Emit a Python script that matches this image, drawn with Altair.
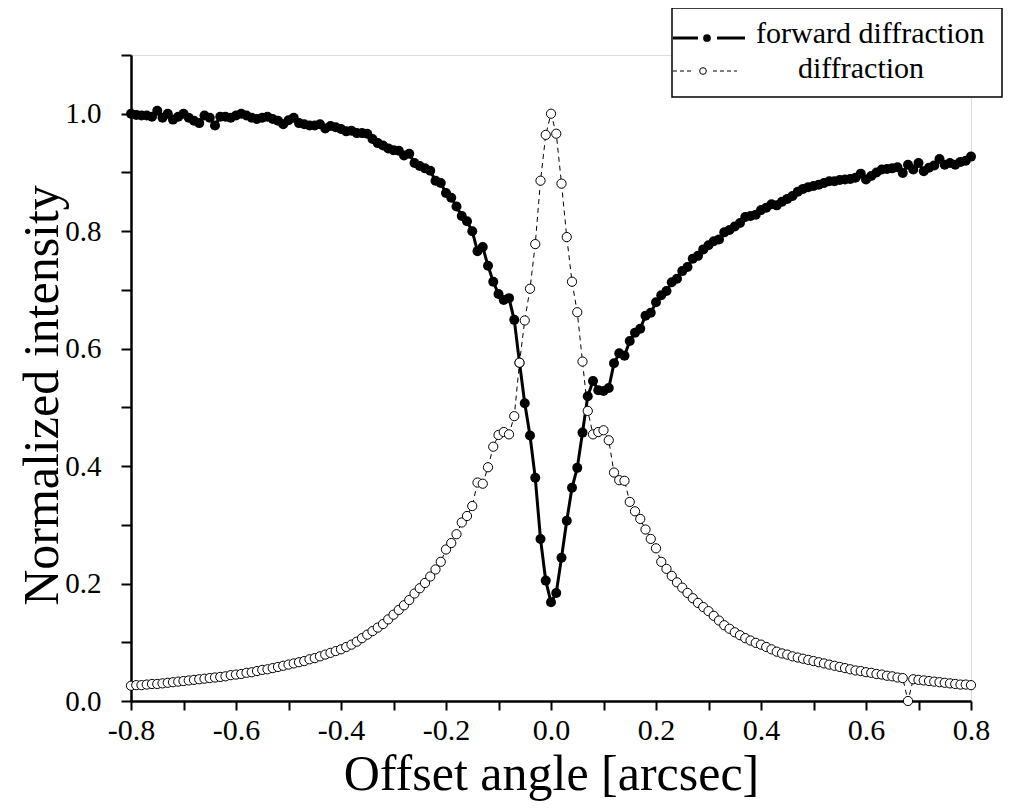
import altair as alt
import pandas as pd

X = [
    -0.80, -0.79, -0.78, -0.77, -0.76, -0.75, -0.74, -0.73, -0.72, -0.71,
    -0.70, -0.69, -0.68, -0.67, -0.66, -0.65, -0.64, -0.63, -0.62, -0.61,
    -0.60, -0.59, -0.58, -0.57, -0.56, -0.55, -0.54, -0.53, -0.52, -0.51,
    -0.50, -0.49, -0.48, -0.47, -0.46, -0.45, -0.44, -0.43, -0.42, -0.41,
    -0.40, -0.39, -0.38, -0.37, -0.36, -0.35, -0.34, -0.33, -0.32, -0.31,
    -0.30, -0.29, -0.28, -0.27, -0.26, -0.25, -0.24, -0.23, -0.22, -0.21,
    -0.20, -0.19, -0.18, -0.17, -0.16, -0.15, -0.14, -0.13, -0.12, -0.11,
    -0.10, -0.09, -0.08, -0.07, -0.06, -0.05, -0.04, -0.03, -0.02, -0.01,
    0.00, 0.01, 0.02, 0.03, 0.04, 0.05, 0.06, 0.07, 0.08, 0.09,
    0.10, 0.11, 0.12, 0.13, 0.14, 0.15, 0.16, 0.17, 0.18, 0.19,
    0.20, 0.21, 0.22, 0.23, 0.24, 0.25, 0.26, 0.27, 0.28, 0.29,
    0.30, 0.31, 0.32, 0.33, 0.34, 0.35, 0.36, 0.37, 0.38, 0.39,
    0.40, 0.41, 0.42, 0.43, 0.44, 0.45, 0.46, 0.47, 0.48, 0.49,
    0.50, 0.51, 0.52, 0.53, 0.54, 0.55, 0.56, 0.57, 0.58, 0.59,
    0.60, 0.61, 0.62, 0.63, 0.64, 0.65, 0.66, 0.67, 0.68, 0.69,
    0.70, 0.71, 0.72, 0.73, 0.74, 0.75, 0.76, 0.77, 0.78, 0.79,
    0.80,
]

FORWARD = [
    1.000, 0.998, 0.997, 0.997, 0.995, 1.005, 0.993, 1.000, 0.990, 0.995,
    1.000, 0.993, 0.988, 0.984, 0.997, 0.993, 0.980, 0.995, 0.995, 0.993,
    0.997, 1.000, 0.997, 0.993, 0.991, 0.993, 0.995, 0.991, 0.988, 0.982,
    0.989, 0.993, 0.984, 0.982, 0.980, 0.980, 0.982, 0.975, 0.979, 0.977,
    0.974, 0.970, 0.971, 0.967, 0.967, 0.966, 0.957, 0.950, 0.946, 0.941,
    0.938, 0.937, 0.929, 0.932, 0.916, 0.911, 0.907, 0.903, 0.886, 0.882,
    0.865, 0.857, 0.842, 0.826, 0.817, 0.800, 0.766, 0.773, 0.741, 0.714,
    0.693, 0.683, 0.686, 0.649, 0.576, 0.507, 0.452, 0.380, 0.276, 0.205,
    0.168, 0.184, 0.244, 0.307, 0.363, 0.397, 0.457, 0.519, 0.545, 0.529,
    0.528, 0.533, 0.575, 0.592, 0.588, 0.613, 0.627, 0.634, 0.656, 0.661,
    0.679, 0.691, 0.698, 0.713, 0.719, 0.732, 0.739, 0.753, 0.758, 0.769,
    0.776, 0.783, 0.786, 0.798, 0.802, 0.808, 0.814, 0.824, 0.826, 0.828,
    0.836, 0.840, 0.846, 0.844, 0.850, 0.855, 0.860, 0.867, 0.872, 0.875,
    0.877, 0.879, 0.882, 0.885, 0.885, 0.887, 0.888, 0.889, 0.891, 0.898,
    0.888, 0.894, 0.900, 0.905, 0.906, 0.907, 0.909, 0.899, 0.913, 0.905,
    0.916, 0.902, 0.908, 0.912, 0.923, 0.913, 0.916, 0.913, 0.918, 0.920,
    0.927,
]

DIFFRACTION = [
    0.026, 0.027, 0.027, 0.028, 0.029, 0.029, 0.030, 0.031, 0.032, 0.033,
    0.034, 0.035, 0.036, 0.037, 0.038, 0.039, 0.040, 0.041, 0.042, 0.044,
    0.045, 0.046, 0.048, 0.049, 0.051, 0.053, 0.054, 0.056, 0.058, 0.060,
    0.062, 0.064, 0.066, 0.068, 0.071, 0.073, 0.076, 0.079, 0.082, 0.085,
    0.088, 0.092, 0.096, 0.101, 0.107, 0.113, 0.119, 0.125, 0.131, 0.139,
    0.147, 0.155, 0.163, 0.172, 0.183, 0.192, 0.201, 0.212, 0.224, 0.237,
    0.258, 0.269, 0.284, 0.304, 0.315, 0.332, 0.372, 0.370, 0.398, 0.433,
    0.453, 0.458, 0.454, 0.485, 0.576, 0.648, 0.702, 0.778, 0.886, 0.964,
    1.000, 0.966, 0.881, 0.790, 0.714, 0.662, 0.578, 0.494, 0.454, 0.458,
    0.461, 0.444, 0.389, 0.376, 0.375, 0.339, 0.323, 0.310, 0.292, 0.276,
    0.260, 0.237, 0.225, 0.213, 0.202, 0.193, 0.184, 0.175, 0.167, 0.160,
    0.153, 0.145, 0.137, 0.129, 0.123, 0.117, 0.112, 0.107, 0.103, 0.099,
    0.096, 0.092, 0.088, 0.084, 0.081, 0.079, 0.076, 0.074, 0.072, 0.070,
    0.068, 0.066, 0.064, 0.062, 0.060, 0.058, 0.056, 0.054, 0.052, 0.051,
    0.049, 0.048, 0.046, 0.045, 0.043, 0.042, 0.040, 0.039, 0.000, 0.037,
    0.036, 0.035, 0.034, 0.033, 0.032, 0.031, 0.030, 0.029, 0.028, 0.028,
    0.027,
]

X_TICKS = [-0.8, -0.7, -0.6, -0.5, -0.4, -0.3, -0.2, -0.1, 0.0,
           0.1, 0.2, 0.3, 0.4, 0.5, 0.6, 0.7, 0.8]
Y_TICKS = [0.0, 0.1, 0.2, 0.3, 0.4, 0.5, 0.6, 0.7, 0.8, 0.9, 1.0, 1.1]

LEGEND_LABELS = ["forward diffraction", "diffraction"]

FONT = "Liberation Serif"

df = pd.DataFrame({"x": X, "forward": FORWARD, "diffraction": DIFFRACTION})
one = pd.DataFrame({"k": [0]})

label_expr = (
    "abs(round(datum.value*10)) % 2 == 0 ? "
    "(datum.value < -0.001 ? '-' + format(-datum.value, '.1f') : format(abs(datum.value), '.1f')) : ''"
)

x_axis = alt.Axis(
    values=X_TICKS, grid=False, domainColor="black", domainWidth=2.5,
    tickColor="black", tickWidth=2, tickSize=9,
    labelFont=FONT, labelFontSize=30, labelColor="black", labelPadding=5,
    labelExpr=label_expr, labelFlush=False, labelOverlap=False,
    title="Offset angle [arcsec]", titleFont=FONT, titleFontSize=50,
    titleFontWeight="normal", titleColor="black",
    titleBaseline="alphabetic", titleY=88, titleX=420,
)
y_axis = alt.Axis(
    values=Y_TICKS, grid=False, domainColor="black", domainWidth=2.5,
    tickColor="black", tickWidth=2, tickSize=10,
    labelFont=FONT, labelFontSize=29, labelColor="black", labelPadding=20,
    labelExpr=label_expr, labelFlush=False, labelOverlap=False,
    title="Normalized intensity", titleFont=FONT, titleFontSize=50,
    titleFontWeight="normal", titleColor="black",
    titleBaseline="alphabetic", titleX=-74, titleY=340, titleAngle=270,
)

xs = alt.Scale(domain=[-0.8, 0.8], nice=False, zero=False)
ys = alt.Scale(domain=[0.0, 1.1], nice=False, zero=False)

base = alt.Chart(df)
X_ENC = alt.X("x:Q", scale=xs, axis=x_axis)

fwd_line = base.mark_line(color="black", strokeWidth=3).encode(
    x=X_ENC, y=alt.Y("forward:Q", scale=ys, axis=y_axis),
)
fwd_pts = base.mark_point(filled=True, color="black", size=100, opacity=1).encode(
    x=X_ENC, y=alt.Y("forward:Q", scale=ys, axis=y_axis),
)
dif_line = base.mark_line(color="black", strokeWidth=1, strokeDash=[5, 4]).encode(
    x=X_ENC, y=alt.Y("diffraction:Q", scale=ys, axis=y_axis),
)
dif_pts = base.mark_point(filled=True, fill="white", stroke="black", strokeWidth=1,
                          size=85, opacity=1).encode(
    x=X_ENC, y=alt.Y("diffraction:Q", scale=ys, axis=y_axis),
)

# legend box (decoration); positions relative to the plot origin
lg = alt.Chart(one)
box = lg.mark_rect(fill="white", stroke="black", strokeWidth=1.5).encode(
    x=alt.value(541), x2=alt.value(871), y=alt.value(-47), y2=alt.value(42)
)
r1a = lg.mark_rule(color="black", strokeWidth=3).encode(
    x=alt.value(542), x2=alt.value(567), y=alt.value(-17))
r1b = lg.mark_rule(color="black", strokeWidth=3).encode(
    x=alt.value(586), x2=alt.value(614), y=alt.value(-17))
d1 = lg.mark_point(filled=True, color="black", size=60, opacity=1).encode(
    x=alt.value(576), y=alt.value(-17))
r2a = lg.mark_rule(color="black", strokeWidth=1, strokeDash=[4, 3]).encode(
    x=alt.value(542), x2=alt.value(562), y=alt.value(16))
r2b = lg.mark_rule(color="black", strokeWidth=1, strokeDash=[4, 3]).encode(
    x=alt.value(582), x2=alt.value(606), y=alt.value(16))
d2 = lg.mark_point(filled=True, fill="white", stroke="black", strokeWidth=1,
                   size=45, opacity=1).encode(x=alt.value(572), y=alt.value(16))
t1 = lg.mark_text(text=LEGEND_LABELS[0], font=FONT, fontSize=30, align="left",
                  baseline="alphabetic", color="black").encode(
    x=alt.value(625), y=alt.value(-12))
t2 = lg.mark_text(text=LEGEND_LABELS[1], font=FONT, fontSize=30, align="left",
                  baseline="alphabetic", color="black").encode(
    x=alt.value(667), y=alt.value(23))

chart = alt.layer(
    fwd_line, fwd_pts, dif_line, dif_pts, box, r1a, r1b, d1, r2a, r2b, d2, t1, t2
).properties(
    width=840, height=646,
    autosize=alt.AutoSizeParams(type="none"),
    padding={"left": 123, "top": 47, "right": 32, "bottom": 100},
).configure_view(strokeWidth=0).configure(background="white")

chart.save("out.html", embed_options={"renderer": "svg", "actions": False})
